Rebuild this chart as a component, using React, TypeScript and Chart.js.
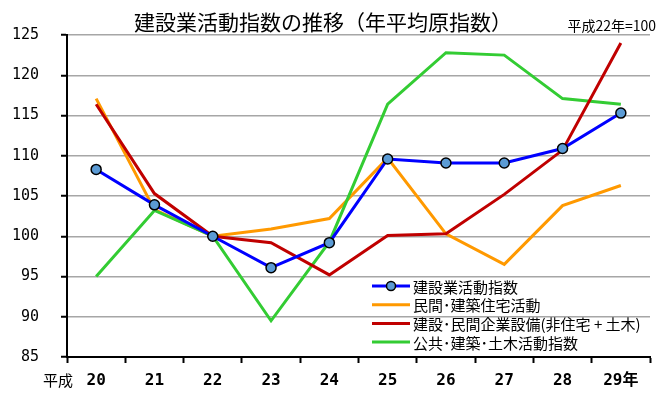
import React, { useEffect, useRef } from 'react';
import { Chart, registerables } from 'chart.js';

Chart.register(...registerables);

const categories = ['20', '21', '22', '23', '24', '25', '26', '27', '28', '29年'];
const constructionIndex = [108.3, 103.9, 100.0, 96.1, 99.2, 109.6, 109.1, 109.1, 110.9, 115.3];
const privateHousing = [117.1, 103.3, 100.0, 100.9, 102.2, 109.7, 100.3, 96.5, 103.8, 106.3];
const privateBusiness = [116.4, 105.3, 100.0, 99.2, 95.2, 100.1, 100.3, 105.2, 110.7, 124.0];
const publicWorks = [95.0, 103.2, 100.0, 89.5, 99.3, 116.4, 122.8, 122.5, 117.1, 116.4];

const seriesNames = [
  '建設業活動指数',
  '民間･建築住宅活動',
  '建設･民間企業設備(非住宅 + 土木)',
  '公共･建築･土木活動指数',
];
const seriesColors = ['#0000ff', '#ff9900', '#c00000', '#33cc33'];

const titleText = '建設業活動指数の推移（年平均原指数）';
const baseNote = '平成22年=100';
const eraLabel = '平成';

const JP = "'Noto Sans CJK JP', 'Noto Sans', sans-serif";
const MONO = "'DejaVu Sans Mono', 'Noto Sans CJK JP', monospace";

const overlay = {
  id: 'overlay',
  afterDraw(chart: any) {
    const ctx = chart.ctx as CanvasRenderingContext2D;
    ctx.save();
    ctx.fillStyle = '#000';
    // title
    ctx.font = `21px ${JP}`;
    ctx.textAlign = 'center';
    ctx.textBaseline = 'middle';
    ctx.fillText(titleText, 323, 22);
    // base note
    ctx.font = `14px ${JP}`;
    ctx.textAlign = 'right';
    ctx.fillText(baseNote, 656, 26);
    // era label
    ctx.font = `15px ${JP}`;
    ctx.textAlign = 'left';
    ctx.fillText(eraLabel, 43, 380);
    // legend
    ctx.font = `15px ${JP}`;
    ctx.textBaseline = 'middle';
    for (let i = 0; i < seriesNames.length; i++) {
      const y = 286 + i * 18.7;
      ctx.strokeStyle = seriesColors[i];
      ctx.lineWidth = 3;
      ctx.beginPath();
      ctx.moveTo(372, y);
      ctx.lineTo(410, y);
      ctx.stroke();
      if (i === 0) {
        ctx.beginPath();
        ctx.arc(391, y, 4.5, 0, Math.PI * 2);
        ctx.fillStyle = '#5b9bd5';
        ctx.fill();
        ctx.lineWidth = 1.5;
        ctx.strokeStyle = '#000';
        ctx.stroke();
      }
      ctx.fillStyle = '#000';
      ctx.fillText(seriesNames[i], 413, y + 1);
    }
    ctx.restore();
  },
};

export default function App() {
  const ref = useRef<HTMLCanvasElement>(null);
  useEffect(() => {
    const mk = (i: number, data: number[]) => ({
      label: seriesNames[i],
      data,
      borderColor: seriesColors[i],
      backgroundColor: seriesColors[i],
      borderWidth: 3,
      pointRadius: i === 0 ? 5 : 0,
      pointBackgroundColor: '#5b9bd5',
      pointBorderColor: '#000',
      pointBorderWidth: 1.5,
      tension: 0,
      fill: false,
    });
    const chart = new Chart(ref.current!, {
      type: 'line',
      data: {
        labels: categories,
        datasets: [
          mk(0, constructionIndex),
          mk(2, privateBusiness),
          mk(3, publicWorks),
          mk(1, privateHousing),
        ],
      },
      options: {
        animation: false,
        responsive: false,
        maintainAspectRatio: false,
        layout: { padding: { top: 35, right: 20, left: 0, bottom: 0 } },
        plugins: {
          legend: { display: false },
          title: { display: false },
          tooltip: { enabled: false },
        },
        scales: {
          x: {
            offset: true,
            grid: {
              offset: true,
              drawOnChartArea: false,
              drawTicks: true,
              tickLength: 6,
              tickColor: '#000',
              tickWidth: 2,
            },
            border: { color: '#000', width: 2 },
            ticks: {
              color: '#000',
              font: { family: MONO, size: 16, weight: 'bold' },
              padding: 8,
              maxRotation: 0,
              autoSkip: false,
            },
            afterFit: (s: any) => {
              s.height = 39;
            },
          },
          y: {
            min: 85,
            max: 125,
            ticks: {
              stepSize: 5,
              color: '#000',
              font: { family: MONO, size: 15 },
              padding: 22,
            },
            grid: {
              color: '#a6a6a6',
              lineWidth: 1.5,
              tickLength: 6,
              tickColor: '#000',
              tickWidth: 2,
            },
            border: { color: '#000', width: 2 },
            afterFit: (s: any) => {
              s.width = 67;
            },
          },
        },
      } as any,
      plugins: [overlay],
    });
    return () => chart.destroy();
  }, []);
  return (
    <div style={{ position: 'fixed', left: 0, top: 0, width: 670, height: 396, background: '#fff' }}>
      <canvas ref={ref} width={670} height={396} style={{ display: 'block' }} />
    </div>
  );
}
